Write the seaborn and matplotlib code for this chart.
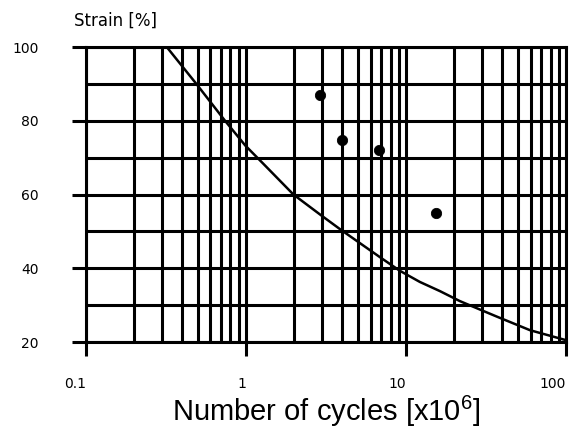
import numpy as np
import pandas as pd
import seaborn as sns
import matplotlib
matplotlib.use("Agg")
import matplotlib.pyplot as plt
from matplotlib.ticker import LogLocator, FixedLocator, NullFormatter

# fatigue curve (cycles in millions, strain in %)
curve_cycles = [0.32, 0.49, 0.74, 0.99, 1.28, 1.98, 2.9, 3.9, 6.88, 9.17, 12.2, 16.3, 21.7, 29, 36.9, 59.6, 100]
curve_strain = [100, 90, 80, 73.3, 68.4, 60, 54.6, 50.5, 43.0, 39.3, 36.3, 33.8, 31.1, 28.8, 26.9, 23.2, 20.5]

# test results
test_cycles = [2.9, 4.0, 6.8, 15.5]
test_strain = [87, 74.8, 72.1, 55]

x_ticks = [0.1, 1, 10, 100]
x_tick_labels = ["0.1", "1", "10", "100"]
y_ticks = [20, 40, 60, 80, 100]

sns.set_style("white")
plt.rcParams["font.family"] = ["DejaVu Sans"]
plt.rcParams["mathtext.default"] = "regular"
plt.rcParams["text.color"] = "black"
plt.rcParams["xtick.color"] = "black"
plt.rcParams["ytick.color"] = "black"

curve = pd.DataFrame({"cycles": curve_cycles, "strain": curve_strain})
tests = pd.DataFrame({"cycles": test_cycles, "strain": test_strain})

fig = plt.figure(figsize=(5.77, 4.32), dpi=100)
ax = fig.add_axes([0.149, 0.2083, 0.832, 0.6827])

sns.lineplot(x="cycles", y="strain", data=curve, color="black", linewidth=1.8, ax=ax, zorder=3)
sns.scatterplot(x="cycles", y="strain", data=tests, color="black", s=55, edgecolor="black", ax=ax, zorder=4)

ax.set_xscale("log")
ax.set_xlim(0.1, 100)
ax.set_ylim(20, 100)

ax.xaxis.set_major_locator(FixedLocator(x_ticks))
ax.set_xticklabels(x_tick_labels, ha="right")
ax.xaxis.set_minor_locator(LogLocator(base=10, subs=np.arange(2, 10)))
ax.xaxis.set_minor_formatter(NullFormatter())
ax.yaxis.set_major_locator(FixedLocator(y_ticks))
ax.yaxis.set_minor_locator(FixedLocator([30, 50, 70, 90]))

ax.grid(True, which="both", color="black", linewidth=2.2)
ax.tick_params(axis="x", which="major", bottom=True, direction="out", length=10, width=2.2, pad=15,
               labelsize=10, labelcolor="black")
ax.tick_params(axis="y", which="major", left=True, direction="out", length=10, width=2.2, pad=24,
               labelsize=10, labelcolor="black")
ax.tick_params(which="minor", length=0)
for s in ax.spines.values():
    s.set_linewidth(2.2)
    s.set_color("black")

ax.set_ylabel("")
ax.set_xlabel("Number of cycles [x10$^6$]", family="Liberation Sans", fontsize=21, labelpad=2, color="black")
ax.text(-0.025, 1.06, "Strain [%]", transform=ax.transAxes, fontsize=12, ha="left", va="bottom", color="black")

fig.savefig("out.png", dpi=100)
